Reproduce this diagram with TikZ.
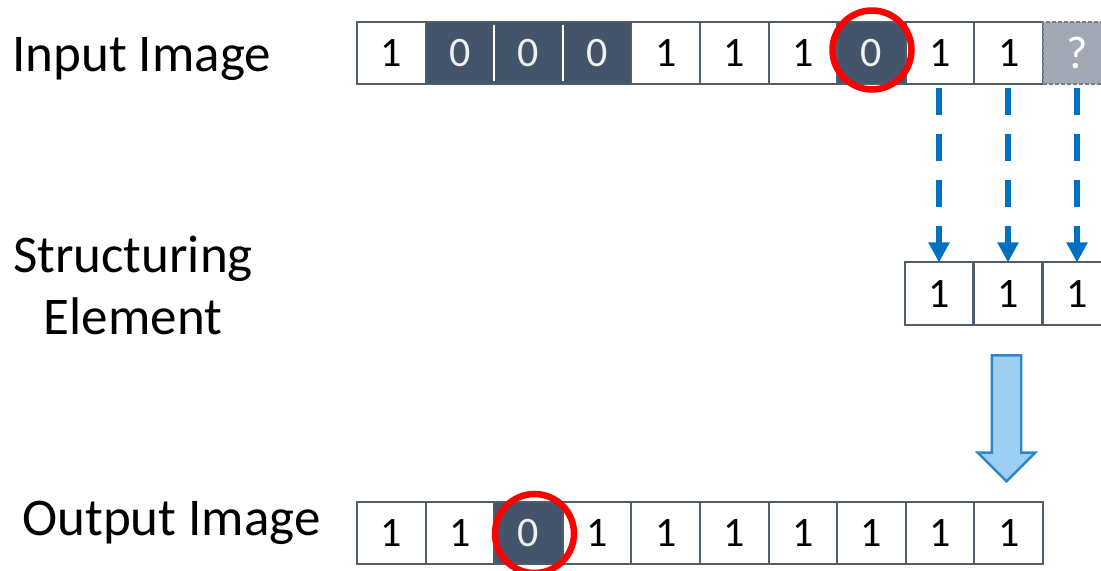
\documentclass[tikz,border=0pt]{standalone}
\usepackage{fontspec}
\setmainfont{Carlito}
\usetikzlibrary{arrows.meta,shapes.arrows}
\definecolor{slate}{HTML}{44546A}
\definecolor{edgec}{HTML}{505D6B}
\definecolor{arrblue}{HTML}{0070C0}
\definecolor{flowfill}{HTML}{9DCFF2}
\definecolor{flowedge}{HTML}{2E86C9}

\begin{document}
\begin{tikzpicture}[x=0.5pt, y=-0.5pt,
  cell/.style={draw=edgec, line width=1pt, fill=#1, minimum width=34.3pt, minimum height=31pt,
    inner sep=0pt, outer sep=0pt, font=\fontsize{21}{21}\selectfont},
  cell/.default=white, dark/.style={cell=slate, text=white!94!black},
  unk/.style={cell=slate!50, draw=edgec!80, dash pattern=on 2pt off 1pt, text=white, font=\fontsize{23}{23}\selectfont},
  ring/.style={circle, draw=red, line width=3.25pt, minimum size=39.5pt, inner sep=0pt},
  lbl/.style={font=\fontsize{26.5}{31}\selectfont, align=center, inner sep=0pt},
  dasharr/.style={-{Triangle[length=10pt, width=10pt]}, line width=3pt, draw=arrblue, dash pattern=on 13.5pt off 9.5pt},
  flow/.style={single arrow, draw=flowedge, fill=flowfill, line width=1.2pt, shape border rotate=270,
    minimum height=63pt, inner sep=6.75pt, single arrow head extend=7pt}]
  \useasboundingbox (0,0) rectangle (1101,571);
  \node[lbl, anchor=base west] (inlbl) at (12,72) {Input Image};
  \node[lbl] (selbl) at (133,285) {Structuring\\Element};
  \node[lbl, anchor=base west] (outlbl) at (22,535) {Output Image};
  % input row
  \node[cell] (i1) at (391.3,53) {1}; \node[dark] (i2) at (460,53) {0}; \node[dark] (i3) at (528.5,53) {0};
  \node[dark] (i4) at (597.1,53) {0}; \node[cell] (i5) at (665.7,53) {1}; \node[cell] (i6) at (734.3,53) {1};
  \node[cell] (i7) at (802.9,53) {1}; \node[dark] (i8) at (871.5,53) {0}; \node[cell] (i9) at (940.1,53) {1};
  \node[cell] (i10) at (1008.7,53) {1}; \node[unk] (i11) at (1077.3,53) {?};
  \draw[white, line width=1pt, shorten <=1.5pt, shorten >=1.5pt] (i2.north east) -- (i2.south east);
  \draw[white, line width=1pt, shorten <=1.5pt, shorten >=1.5pt] (i3.north east) -- (i3.south east);
  \node[ring] (hit) at (872,50) {};
  % structuring element
  \node[cell] (s1) at (939,293.5) {1}; \node[cell] (s2) at (1008,293.5) {1}; \node[cell] (s3) at (1077,293.5) {1};
  \draw[dasharr, shorten <=2pt] (s1.north |- i9.south) -- (s1.north);
  \draw[dasharr, shorten <=2pt] (s2.north |- i10.south) -- (s2.north);
  \draw[dasharr, shorten <=2pt] (s3.north |- i11.south) -- (s3.north);
  \node[flow] (flow) at (1006.5,411) {};
  % output row
  \node[cell] (o1) at (391.3,533) {1}; \node[cell] (o2) at (460,533) {1}; \node[dark] (o3) at (528.5,533) {0};
  \node[cell] (o4) at (597.1,533) {1}; \node[cell] (o5) at (665.7,533) {1}; \node[cell] (o6) at (734.3,533) {1};
  \node[cell] (o7) at (802.9,533) {1}; \node[cell] (o8) at (871.5,533) {1}; \node[cell] (o9) at (940.1,533) {1};
  \node[cell] (o10) at (1008.7,533) {1};
  \node[ring] (res) at (534.5,533.5) {};
\end{tikzpicture}
\end{document}
